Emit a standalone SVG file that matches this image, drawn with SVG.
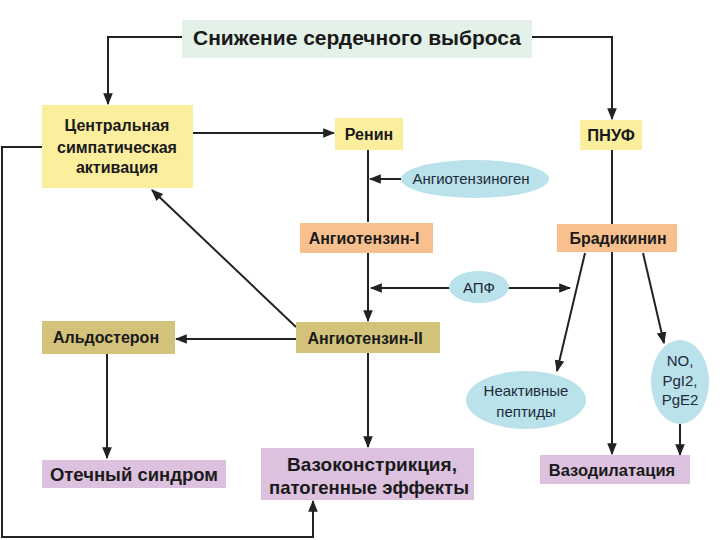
<svg xmlns="http://www.w3.org/2000/svg" width="720" height="540" viewBox="0 0 720 540">
<style>
.t{font-family:"Liberation Sans",Arial,sans-serif;font-weight:bold;fill:#1a1a1a;text-anchor:middle}
.e{font-family:"Liberation Sans",Arial,sans-serif;fill:#1f2a3a;text-anchor:middle}
.ln{fill:none;stroke:#222;stroke-width:2}
.yl{fill:#fbef9e}.or{fill:#f8c08e}.ol{fill:#d2c27a}.pu{fill:#dcc2de}.bl{fill:#b9e2ea}.mt{fill:#e3f1e8}
</style>
<defs>
<marker id="b" viewBox="0 0 10 10" refX="9" refY="5" markerWidth="12" markerHeight="12" orient="auto-start-reverse" markerUnits="userSpaceOnUse">
<path d="M0,1 L10,5 L0,9 z" fill="#222"/>
</marker>
</defs>
<rect width="720" height="540" fill="#fff"/>
<g id="connectors">
<polyline class="ln" points="182,37 108,37 108,104" marker-end="url(#b)"/>
<polyline class="ln" points="532,37 612,37 612,119" marker-end="url(#b)"/>
<line class="ln" x1="193" y1="133" x2="334" y2="133" marker-end="url(#b)"/>
<line class="ln" x1="368" y1="150" x2="368" y2="222"/>
<line class="ln" x1="401" y1="179" x2="370" y2="179" marker-end="url(#b)"/>
<line class="ln" x1="368" y1="253" x2="368" y2="321" marker-end="url(#b)"/>
<line class="ln" stroke-width="1.5" x1="371" y1="288" x2="570" y2="288" marker-start="url(#b)" marker-end="url(#b)"/>
<line class="ln" x1="368" y1="353" x2="368" y2="447" marker-end="url(#b)"/>
<line class="ln" stroke-width="1.5" x1="296" y1="327" x2="152" y2="190" marker-end="url(#b)"/>
<line class="ln" x1="296" y1="339" x2="176" y2="339" marker-end="url(#b)"/>
<line class="ln" x1="107" y1="354" x2="107" y2="458" marker-end="url(#b)"/>
<polyline class="ln" points="42,147 2,147 2,537 313,537 313,501" marker-end="url(#b)"/>
<line class="ln" x1="612" y1="150" x2="612" y2="454" marker-end="url(#b)"/>
<line class="ln" stroke-width="1.5" x1="585" y1="253" x2="557" y2="371" marker-end="url(#b)"/>
<line class="ln" stroke-width="1.5" x1="643" y1="253" x2="664" y2="343" marker-end="url(#b)"/>
<line class="ln" x1="680" y1="424" x2="680" y2="455" marker-end="url(#b)"/>
</g>
<g id="title"><rect class="mt" x="182" y="20" width="350" height="38"/><text class="t" x="357" y="45" font-size="21">Снижение сердечного выброса</text></g>
<g id="central"><rect class="yl" x="42" y="105" width="151" height="83"/>
<text class="t" x="117" y="131" font-size="16">Центральная</text>
<text class="t" x="117" y="153" font-size="16">симпатическая</text>
<text class="t" x="117" y="173" font-size="16">активация</text></g>
<g id="renin"><rect class="yl" x="335" y="118" width="68" height="32"/><text class="t" x="369" y="140" font-size="16">Ренин</text></g>
<g id="pnuf"><rect class="yl" x="580" y="120" width="62" height="30"/><text class="t" x="611" y="141" font-size="16.5">ПНУФ</text></g>
<g id="angiotensinogen"><ellipse class="bl" cx="475" cy="179" rx="74" ry="19"/><text class="e" x="471" y="184" font-size="15">Ангиотензиноген</text></g>
<g id="ang1"><rect class="or" x="300" y="223" width="133" height="30"/><text class="t" x="364" y="244" font-size="16">Ангиотензин-I</text></g>
<g id="bradykinin"><rect class="or" x="557" y="224" width="120" height="28"/><text class="t" x="618" y="244" font-size="16">Брадикинин</text></g>
<g id="apf"><ellipse class="bl" cx="479" cy="287" rx="30" ry="16"/><text class="e" x="479" y="293" font-size="15">АПФ</text></g>
<g id="ang2"><rect class="ol" x="296" y="322" width="144" height="31"/><text class="t" x="365" y="344" font-size="16">Ангиотензин-II</text></g>
<g id="aldosterone"><rect class="ol" x="42" y="321" width="133" height="33"/><text class="t" x="106" y="343" font-size="16">Альдостерон</text></g>
<g id="edema"><rect class="pu" x="42" y="460" width="184" height="28"/><text class="t" x="134" y="481" font-size="18.5">Отечный синдром</text></g>
<g id="vasoconstriction"><rect class="pu" x="261" y="448" width="213" height="52"/>
<text class="t" x="372" y="471" font-size="19">Вазоконстрикция,</text>
<text class="t" x="369" y="494" font-size="18.5">патогенные эффекты</text></g>
<g id="inactive"><ellipse class="bl" cx="526" cy="400" rx="60" ry="29"/>
<text class="e" x="526" y="396" font-size="15">Неактивные</text>
<text class="e" x="526" y="417" font-size="15">пептиды</text></g>
<g id="no"><ellipse class="bl" cx="680" cy="382" rx="29" ry="42"/>
<text class="e" x="680" y="366" font-size="15">NO,</text>
<text class="e" x="680" y="386" font-size="15">PgI2,</text>
<text class="e" x="680" y="405" font-size="15">PgE2</text></g>
<g id="vasodilation"><rect class="pu" x="540" y="455" width="150" height="29"/><text class="t" x="612" y="476" font-size="16.5">Вазодилатация</text></g>
</svg>
